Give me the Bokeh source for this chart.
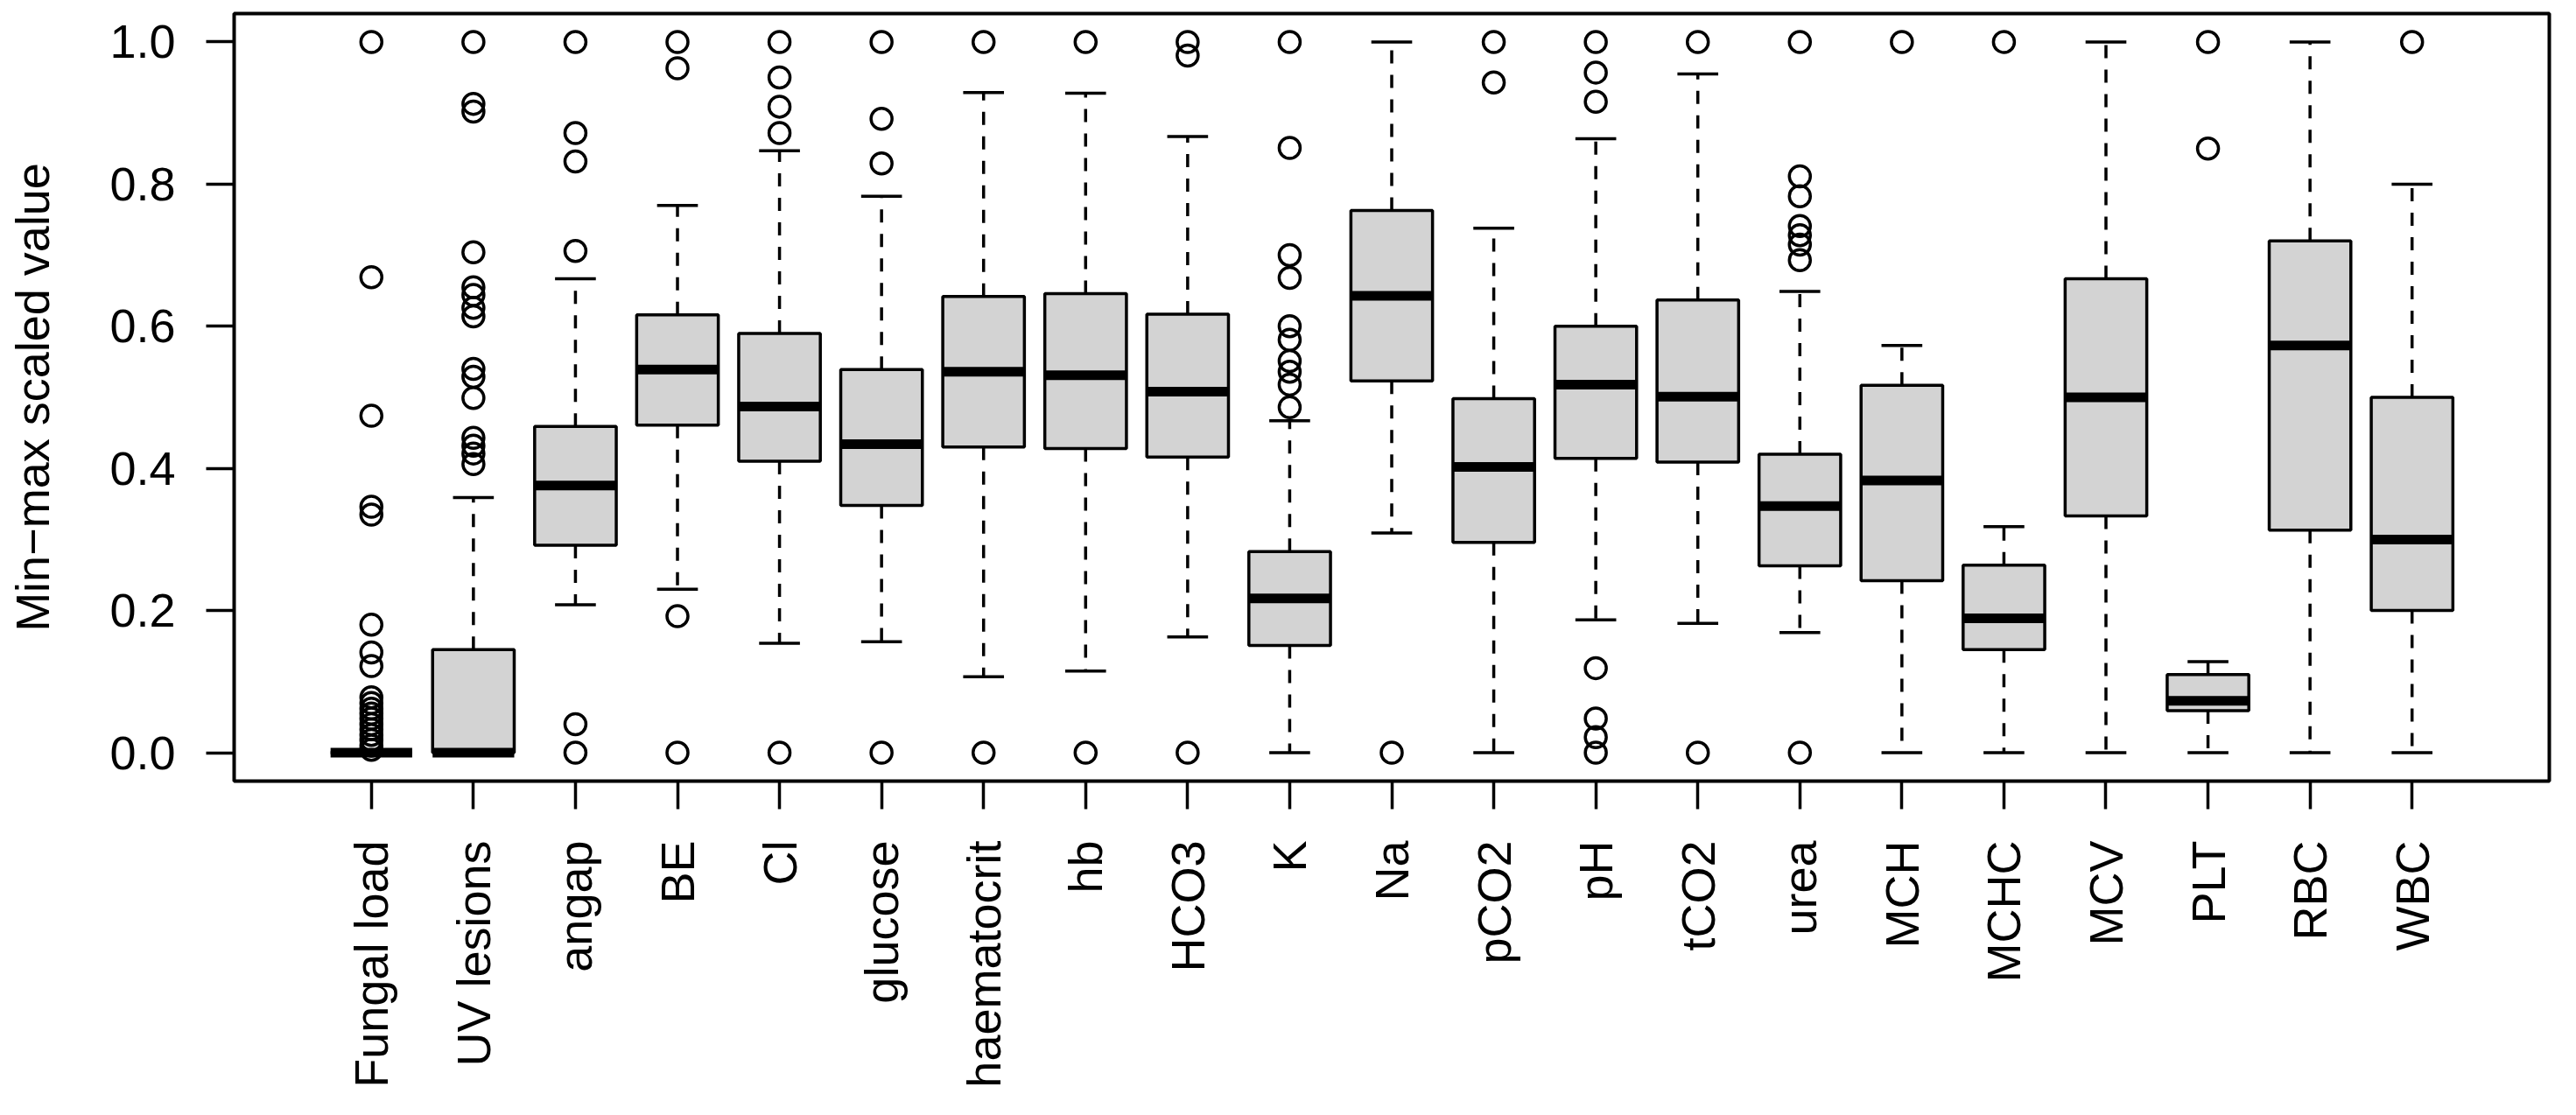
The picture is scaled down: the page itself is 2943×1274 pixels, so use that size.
import math
from bokeh.plotting import figure
from bokeh.models import ColumnDataSource, FixedTicker, Range1d, PrintfTickFormatter
from bokeh.embed import file_html
from bokeh.resources import INLINE

categories = ["Fungal load", "UV lesions", "angap", "BE", "Cl", "glucose", "haematocrit",
              "hb", "HCO3", "K", "Na", "pCO2", "pH", "tCO2", "urea", "MCH", "MCHC",
              "MCV", "PLT", "RBC", "WBC"]
q1 = [0.0, 0.0, 0.292, 0.461, 0.410, 0.348, 0.430, 0.428, 0.416, 0.151, 0.523,
      0.296, 0.414, 0.409, 0.263, 0.242, 0.145, 0.333, 0.059, 0.313, 0.200]
median = [0.0, 0.0, 0.376, 0.539, 0.487, 0.434, 0.536, 0.531, 0.508, 0.217, 0.643,
          0.402, 0.518, 0.501, 0.347, 0.383, 0.189, 0.500, 0.073, 0.573, 0.300]
q3 = [0.0, 0.145, 0.459, 0.616, 0.590, 0.539, 0.642, 0.646, 0.617, 0.283, 0.763,
      0.498, 0.600, 0.637, 0.420, 0.517, 0.264, 0.667, 0.110, 0.720, 0.500]
whisker_low = [0.0, 0.0, 0.208, 0.230, 0.154, 0.156, 0.107, 0.115, 0.163, 0.0, 0.309,
               0.0, 0.187, 0.182, 0.169, 0.0, 0.0, 0.0, 0.0, 0.0, 0.0]
whisker_high = [0.0, 0.359, 0.667, 0.770, 0.847, 0.783, 0.929, 0.928, 0.867, 0.467, 1.0,
                0.738, 0.864, 0.955, 0.649, 0.573, 0.318, 1.0, 0.128, 1.0, 0.800]
outliers = [
    [1.0, 0.669, 0.474, 0.346, 0.335, 0.180, 0.141, 0.122, 0.078, 0.070, 0.062, 0.055,
     0.048, 0.040, 0.033, 0.025, 0.018, 0.010, 0.004],
    [1.0, 0.913, 0.902, 0.704, 0.655, 0.644, 0.626, 0.614, 0.540, 0.529, 0.499,
     0.443, 0.432, 0.421, 0.406],
    [1.0, 0.872, 0.832, 0.706, 0.040, 0.0],
    [1.0, 0.963, 0.192, 0.0],
    [1.0, 0.950, 0.909, 0.872, 0.0],
    [1.0, 0.892, 0.829, 0.0],
    [1.0, 0.0],
    [1.0, 0.0],
    [1.0, 0.981, 0.0],
    [1.0, 0.851, 0.700, 0.668, 0.600, 0.581, 0.551, 0.536, 0.518, 0.486],
    [0.0],
    [1.0, 0.943],
    [1.0, 0.957, 0.916, 0.119, 0.048, 0.022, 0.0],
    [1.0, 0.0],
    [1.0, 0.811, 0.783, 0.741, 0.728, 0.715, 0.693, 0.0],
    [1.0],
    [1.0],
    [],
    [1.0, 0.850],
    [],
    [1.0],
]
y_ticks = [0.0, 0.2, 0.4, 0.6, 0.8, 1.0]

FONT = "Liberation Sans"
FONT_SIZE = "54px"
BOX_W = 0.8
CAP_W = 0.4

xs = list(range(1, len(categories) + 1))
box_src = ColumnDataSource(dict(
    x=xs, q1=q1, med=median, q3=q3, lo=whisker_low, hi=whisker_high,
    left=[x - BOX_W / 2 for x in xs], right=[x + BOX_W / 2 for x in xs],
    cl=[x - CAP_W / 2 for x in xs], cr=[x + CAP_W / 2 for x in xs],
))
ox, oy = [], []
for x, vals in zip(xs, outliers):
    for v in vals:
        ox.append(x)
        oy.append(v)
out_src = ColumnDataSource(dict(x=ox, y=oy))

p = figure(width=2927, height=1258, output_backend="svg", toolbar_location=None,
           x_range=Range1d(-0.345, 22.345), y_range=Range1d(-0.04, 1.04),
           min_border_left=267, min_border_right=15, min_border_top=15,
           min_border_bottom=366)
p.background_fill_color = "white"
p.border_fill_color = "white"
p.grid.visible = False
p.outline_line_color = "black"
p.outline_line_width = 4

# whiskers (dashed)
p.segment(x0="x", y0="q3", x1="x", y1="hi", source=box_src, line_color="black",
          line_width=3.5, line_dash="15 13")
p.segment(x0="x", y0="q1", x1="x", y1="lo", source=box_src, line_color="black",
          line_width=3.5, line_dash="15 13")
# caps
p.segment(x0="cl", y0="hi", x1="cr", y1="hi", source=box_src, line_color="black",
          line_width=3.5)
p.segment(x0="cl", y0="lo", x1="cr", y1="lo", source=box_src, line_color="black",
          line_width=3.5)
# boxes
p.quad(left="left", right="right", bottom="q1", top="q3", source=box_src,
       fill_color="#D3D3D3", line_color="black", line_width=3.5)
# medians
p.segment(x0="left", y0="med", x1="right", y1="med", source=box_src,
          line_color="black", line_width=11, line_cap="butt")
# outliers
p.scatter(x="x", y="y", source=out_src, marker="circle", size=24,
          fill_color=None, line_color="black", line_width=3.5)

# axes
for ax in (p.xaxis[0], p.yaxis[0]):
    ax.axis_line_color = None
    ax.major_tick_line_color = "black"
    ax.major_tick_line_width = 3.5
    ax.major_tick_out = 32
    ax.major_tick_in = 0
    ax.minor_tick_line_color = None
    ax.major_label_text_font = FONT
    ax.major_label_text_font_size = FONT_SIZE
    ax.major_label_text_color = "black"

p.xaxis.ticker = FixedTicker(ticks=xs)
p.xaxis.major_label_overrides = {x: c for x, c in zip(xs, categories)}
p.xaxis.major_label_orientation = math.pi / 2
p.xaxis.major_label_standoff = 36

p.yaxis.ticker = FixedTicker(ticks=y_ticks)
p.yaxis.formatter = PrintfTickFormatter(format="%.1f")
p.yaxis.major_label_standoff = 35
p.yaxis.axis_label = "Min\u2212max scaled value"
p.yaxis.axis_label_text_font = FONT
p.yaxis.axis_label_text_font_size = FONT_SIZE
p.yaxis.axis_label_text_font_style = "normal"
p.yaxis.axis_label_text_color = "black"
p.yaxis.axis_label_standoff = 55

open("out.html", "w").write(file_html(p, INLINE))
